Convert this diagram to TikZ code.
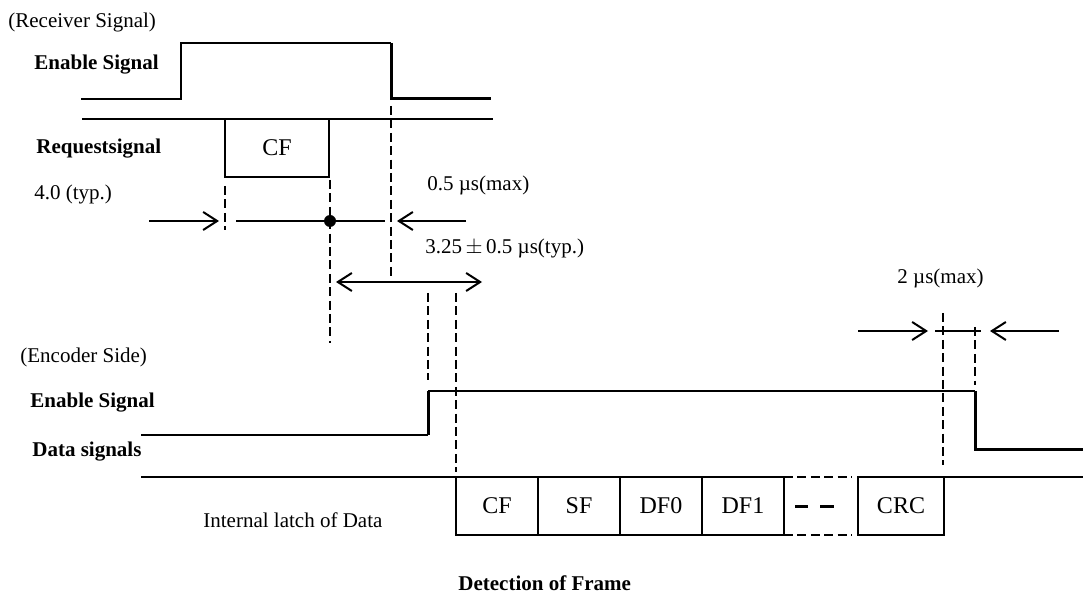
\documentclass[tikz,border=0pt]{standalone}
\usepackage{fontspec}
\setmainfont{Liberation Serif}
\usetikzlibrary{positioning,arrows.meta}

\begin{document}
\begin{tikzpicture}[x=0.5pt,y=-0.5pt,
  >={Straight Barb[length=7pt,width=9pt]},
  sig/.style={line width=1pt},
  edge/.style={line width=1.5pt},
  guide/.style={line width=1pt, dash pattern=on 4.5pt off 2.2pt},
  dim/.style={line width=1pt},
  lbl/.style={anchor=west, inner sep=0pt, font=\fontsize{10.5}{12}\selectfont},
  blbl/.style={lbl, font=\fontsize{10.5}{12}\selectfont\bfseries},
  cell/.style={draw, line width=1pt, minimum width=41pt, minimum height=29pt, inner sep=0pt, outer sep=0pt, font=\fontsize{12}{14}\selectfont}]
\useasboundingbox (0,0) rectangle (1083,593);
% receiver side
\node[lbl] (rxTitle) at (8,22) {(Receiver Signal)};
\node[blbl] (rxEnable) at (34,65) {Enable Signal};
\node[blbl] (rxRequest) at (36,149) {Requestsignal};
\node[lbl] (typA) at (34,194) {4.0 (typ.)};
\coordinate (R1) at (81,99);
\coordinate (R2) at (181,99);
\coordinate (R3) at (181,43);
\coordinate (R4) at (391,43);
\coordinate (R5) at (391,99);
\coordinate (R6) at (491,99);
\path [draw, sig] (R1) -- (R2) -- (R3) -- (R4);
\path [draw, edge] (R4) -- (R5) -- (R6);
\coordinate (Q1) at (82,119);
\coordinate (Q2) at (493,119);
\path [draw, sig] (Q1) -- (Q2);
\node[cell, minimum width=52pt, anchor=north west] (reqCF) at (225,119) {CF};
% timing marks
\coordinate (G1a) at (225,186);
\coordinate (G1b) at (225,230);
\coordinate (G2a) at (330,180);
\coordinate (G2b) at (330,343);
\coordinate (G3a) at (391,106);
\coordinate (G3b) at (391,280);
\coordinate (G4a) at (428,293);
\coordinate (G4b) at (428,380);
\coordinate (G5a) at (456,293);
\coordinate (G5b) at (456,472);
\coordinate (G6a) at (943,313);
\coordinate (G6b) at (943,465);
\coordinate (G7a) at (975,327);
\coordinate (G7b) at (975,385);
\path [draw, guide] (G1a) -- (G1b);
\path [draw, guide] (G2a) -- (G2b);
\path [draw, guide] (G3a) -- (G3b);
\path [draw, guide] (G4a) -- (G4b);
\path [draw, guide] (G5a) -- (G5b);
\path [draw, guide] (G6a) -- (G6b);
\path [draw, guide] (G7a) -- (G7b);
% dimension arrows
\node[circle, fill, inner sep=0pt, minimum size=6pt] (dot) at (330,221) {};
\coordinate (A1) at (149,221);
\coordinate (A2) at (219,221);
\coordinate (L1) at (236,221);
\coordinate (L2) at (385,221);
\coordinate (B1) at (466,221);
\coordinate (B2) at (397,221);
\path [draw, dim, ->] (A1) -- (A2);
\path [draw, dim] (L1) -- (L2);
\path [draw, dim, ->] (B1) -- (B2);
\coordinate (W1) at (336,282);
\coordinate (W2) at (482,282);
\path [draw, dim, <->] (W1) -- (W2);
\coordinate (C1) at (858,331);
\coordinate (C2) at (928,331);
\coordinate (N1) at (935,331);
\coordinate (N2) at (981,331);
\coordinate (E1) at (1059,331);
\coordinate (E2) at (990,331);
\path [draw, dim, ->] (C1) -- (C2);
\path [draw, dim] (N1) -- (N2);
\path [draw, dim, ->] (E1) -- (E2);
\node[lbl] (maxA) at (427,185) {0.5 µs(max)};
\node[lbl] (typB) at (425,248) {3.25\,$\pm$\,0.5 µs(typ.)};
\node[lbl] (maxB) at (897,278) {2 µs(max)};
% encoder side
\node[lbl] (txTitle) at (20,357) {(Encoder Side)};
\node[blbl] (txEnable) at (30,403) {Enable Signal};
\node[blbl] (txData) at (32,452) {Data signals};
\node[lbl] (latch) at (203,520) {Internal latch of Data};
\node[blbl] (detect) at (458,583) {Detection of Frame};
\coordinate (T1) at (141,435);
\coordinate (T2) at (428,435);
\coordinate (T3) at (428,391);
\coordinate (T4) at (975,391);
\coordinate (T5) at (975,450);
\coordinate (T6) at (1083,450);
\path [draw, sig] (T1) -- (T2);
\path [draw, edge] (T2) -- (T3);
\path [draw, sig] (T3) -- (T4);
\path [draw, edge] (T4) -- (T5) -- (T6);
% data frame
\node[cell, anchor=north west] (cellCF) at (456,477) {CF};
\node[cell, right=0pt of cellCF] (cellSF) {SF};
\node[cell, right=0pt of cellSF] (cellDFa) {DF0};
\node[cell, right=0pt of cellDFa] (cellDFb) {DF1};
\node[cell, anchor=north west, minimum width=43pt] (cellCRC) at (858,477) {CRC};
\coordinate (S1) at (141,477);
\coordinate (S2) at (852,477);
\coordinate (S3) at (852,535);
\coordinate (S4) at (1083,477);
\path [draw, sig] (S1) -- (cellCF.north west);
\path [draw, guide] (cellDFb.north east) -- (S2);
\path [draw, guide] (cellDFb.south east) -- (S3);
\path [draw, sig] (cellCRC.north east) -- (S4);
\coordinate (K1) at (795,507);
\coordinate (K2) at (808,507);
\coordinate (K3) at (820,507);
\coordinate (K4) at (834,507);
\path [draw, edge] (K1) -- (K2);
\path [draw, edge] (K3) -- (K4);
\end{tikzpicture}
\end{document}
